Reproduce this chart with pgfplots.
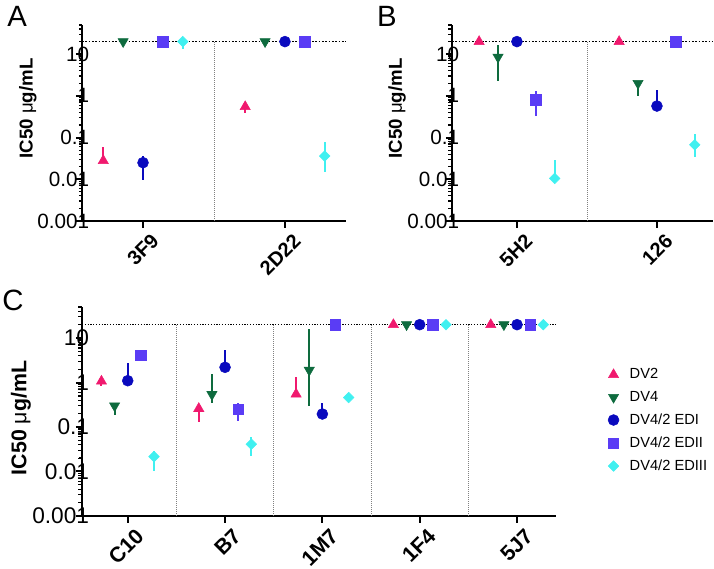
\documentclass[border=0pt]{standalone}
\usepackage{pgfplots}
\pgfplotsset{compat=1.18}
\usepackage{fontspec}
\setmainfont{Liberation Sans}
\definecolor{cDVtwo}{RGB}{240,25,110}
\definecolor{cDVfour}{RGB}{14,107,62}
\definecolor{cEDI}{RGB}{10,10,190}
\definecolor{cEDII}{RGB}{90,60,245}
\definecolor{cEDIII}{RGB}{64,240,240}
\pgfplotsset{
  myebar/.style={only marks, error bars/y dir=both, error bars/y explicit, error bars/error mark=none, error bars/error bar style={line width=1.5pt, solid}},
  sDVtwo/.style={color=cDVtwo, mark=triangle*, mark size=4.4pt, myebar},
  sDVfour/.style={color=cDVfour, mark=triangle*, mark size=4.4pt, mark options={rotate=180}, myebar},
  sEDI/.style={color=cEDI, mark=*, mark size=4.1pt, myebar},
  sEDII/.style={color=cEDII, mark=square*, mark size=3.9pt, myebar},
  sEDIII/.style={color=cEDIII, mark=square*, mark size=2.8pt, mark options={rotate=45}, myebar},
}
\begin{document}
\begin{tikzpicture}
\path (0,0) rectangle (535.5pt,-420.75pt);
% Panel letters
\node[anchor=base west, inner sep=0pt, font=\fontsize{22}{26}\selectfont] at (5.25pt,-20.25pt) {A};
\node[anchor=base west, inner sep=0pt, font=\fontsize{22}{26}\selectfont] at (282.75pt,-20.25pt) {B};
\node[anchor=base west, inner sep=0pt, font=\fontsize{22}{26}\selectfont] at (1.5pt,-233.25pt) {C};

% ---------------- Panel A
\begin{axis}[at={(61.5pt,-165.75pt)}, anchor=south west,
  scale only axis, width=198pt, height=147pt,
  ymode=log, ymin=0.001, ymax=50, xmin=-0.43, xmax=1.43,
  axis x line*=bottom, axis y line*=left, axis line style={line width=1.6pt},
  tick align=outside, major tick length=4.5pt, minor tick length=2.4pt,
  every tick/.style={black, line width=1.5pt},
  every minor tick/.style={black, line width=0.9pt},
  ytick={0.001,0.01,0.1,1,10},
  yticklabels={0.001,0.01,0.1,1,10},
  xtick={0,1}, xticklabels={3F9,2D22},
  xticklabel style={rotate=45, anchor=east, inner sep=1pt, xshift=2pt, yshift=-12pt, font=\bfseries\fontsize{15}{17}\selectfont},
  yticklabel style={anchor=east, inner sep=1pt, xshift=11pt, font=\fontsize{15.5}{18}\selectfont},
  ylabel={\textbf{IC50 }μ\textbf{g/mL}},
  ylabel style={at={(axis description cs:-0.205,0.574)}, anchor=center, font=\fontsize{14}{17}\selectfont},
  clip=false]
\addplot[gray, dash pattern=on 0.6pt off 0.9pt, line width=0.6pt, forget plot] coordinates {(0.5,0.001) (0.5,20)};
\addplot[black, dash pattern=on 1.2pt off 1.3pt, line width=1.2pt, forget plot] coordinates {(-0.43,20) (1.43,20)};
% axis ticks
\pgfplotsinvokeforeach{0.001,0.01,0.1,1,10}{\addplot[black, line width=1.5pt, forget plot] coordinates {(-0.43,#1) (-0.468,#1)};}
\pgfplotsinvokeforeach{0.002,0.003,0.004,0.005,0.006,0.007,0.008,0.009,0.02,0.03,0.04,0.05,0.06,0.07,0.08,0.09,0.2,0.3,0.4,0.5,0.6,0.7,0.8,0.9,2,3,4,5,6,7,8,9,20,30,40,50}{\addplot[black, line width=0.9pt, forget plot] coordinates {(-0.43,#1) (-0.454,#1)};}
\pgfplotsinvokeforeach{0,1}{\addplot[black, line width=1.5pt, forget plot] coordinates {(#1,0.001) (#1,0.00068)};}
% data
\addplot[sDVtwo] coordinates {(-0.28,0.028) += (0,0.032) -= (0,0) (0.72,0.55) += (0,0.15) -= (0,0.17)};
\addplot[sDVfour] coordinates {(-0.14,20) += (0,0) -= (0,0) (0.86,20) += (0,0) -= (0,0)};
\addplot[sEDI] coordinates {(0,0.025) += (0,0.011) -= (0,0.0155) (1,20) += (0,0) -= (0,0)};
\addplot[sEDII] coordinates {(0.14,20) += (0,0) -= (0,0) (1.14,20) += (0,0) -= (0,0)};
\addplot[sEDIII] coordinates {(0.28,20) += (0,0) -= (0,7) (1.28,0.036) += (0,0.044) -= (0,0.021)};
\end{axis}

% ---------------- Panel B
\begin{axis}[at={(339pt,-165.75pt)}, anchor=south west,
  scale only axis, width=195.75pt, height=147pt,
  ymode=log, ymin=0.001, ymax=50, xmin=-0.464, xmax=1.4,
  axis x line*=bottom, axis y line*=left, axis line style={line width=1.6pt},
  tick align=outside, major tick length=4.5pt, minor tick length=2.4pt,
  every tick/.style={black, line width=1.5pt},
  every minor tick/.style={black, line width=0.9pt},
  ytick={0.001,0.01,0.1,1,10},
  yticklabels={0.001,0.01,0.1,1,10},
  xtick={0,1}, xticklabels={5H2,126},
  xticklabel style={rotate=45, anchor=east, inner sep=1pt, xshift=2pt, yshift=-12pt, font=\bfseries\fontsize{15}{17}\selectfont},
  yticklabel style={anchor=east, inner sep=1pt, xshift=11pt, font=\fontsize{15.5}{18}\selectfont},
  ylabel={\textbf{IC50 }μ\textbf{g/mL}},
  ylabel style={at={(axis description cs:-0.21,0.574)}, anchor=center, font=\fontsize{14}{17}\selectfont},
  clip=false]
\addplot[gray, dash pattern=on 0.6pt off 0.9pt, line width=0.6pt, forget plot] coordinates {(0.5,0.001) (0.5,20)};
\addplot[black, dash pattern=on 1.2pt off 1.3pt, line width=1.2pt, forget plot] coordinates {(-0.464,20) (1.4,20)};
% axis ticks
\pgfplotsinvokeforeach{0.001,0.01,0.1,1,10}{\addplot[black, line width=1.5pt, forget plot] coordinates {(-0.464,#1) (-0.503,#1)};}
\pgfplotsinvokeforeach{0.002,0.003,0.004,0.005,0.006,0.007,0.008,0.009,0.02,0.03,0.04,0.05,0.06,0.07,0.08,0.09,0.2,0.3,0.4,0.5,0.6,0.7,0.8,0.9,2,3,4,5,6,7,8,9,20,30,40,50}{\addplot[black, line width=0.9pt, forget plot] coordinates {(-0.464,#1) (-0.489,#1)};}
\pgfplotsinvokeforeach{0,1}{\addplot[black, line width=1.5pt, forget plot] coordinates {(#1,0.001) (#1,0.00068)};}
% data
\addplot[sDVtwo] coordinates {(-0.27,20) += (0,0) -= (0,0) (0.73,20) += (0,0) -= (0,0)};
\addplot[sDVfour] coordinates {(-0.135,8.5) += (0,8.5) -= (0,6.2) (0.865,2.0) += (0,0) -= (0,1.0)};
\addplot[sEDI] coordinates {(0,20) += (0,0) -= (0,0) (1,0.57) += (0,0.83) -= (0,0)};
\addplot[sEDII] coordinates {(0.135,0.8) += (0,0.5) -= (0,0.47) (1.135,20) += (0,0) -= (0,0)};
\addplot[sEDIII] coordinates {(0.27,0.0105) += (0,0.018) -= (0,0) (1.27,0.067) += (0,0.055) -= (0,0.032)};
\end{axis}

% ---------------- Panel C
\begin{axis}[at={(61.5pt,-387pt)}, anchor=south west,
  scale only axis, width=355.5pt, height=156.75pt,
  ymode=log, ymin=0.001, ymax=50, xmin=-0.47, xmax=4.4,
  axis x line*=bottom, axis y line*=left, axis line style={line width=1.6pt},
  tick align=outside, major tick length=4.5pt, minor tick length=2.4pt,
  every tick/.style={black, line width=1.5pt},
  every minor tick/.style={black, line width=0.9pt},
  ytick={0.001,0.01,0.1,1,10},
  yticklabels={0.001,0.01,0.1,1,10},
  xtick={0,1,2,3,4}, xticklabels={C10,B7,1M7,1F4,5J7},
  xticklabel style={rotate=45, anchor=east, inner sep=1pt, xshift=2pt, yshift=-12pt, font=\bfseries\fontsize{16}{18}\selectfont},
  yticklabel style={anchor=east, inner sep=1pt, xshift=11pt, font=\fontsize{17}{19}\selectfont},
  ylabel={\textbf{IC50 }μ\textbf{g/mL}},
  ylabel style={at={(axis description cs:-0.129,0.469)}, anchor=center, font=\fontsize{16}{19}\selectfont},
  legend style={at={(axis description cs:1.101,0.732)}, anchor=north west, draw=none, fill=none,
    font=\fontsize{11}{13}\selectfont, row sep=3.8pt,
    /tikz/every odd column/.append style={column sep=6pt}},
  legend cell align=left,
  clip=false]
\addplot[gray, dash pattern=on 0.6pt off 0.9pt, line width=0.6pt, forget plot] coordinates {(0.5,0.001) (0.5,20)};
\addplot[gray, dash pattern=on 0.6pt off 0.9pt, line width=0.6pt, forget plot] coordinates {(1.5,0.001) (1.5,20)};
\addplot[gray, dash pattern=on 0.6pt off 0.9pt, line width=0.6pt, forget plot] coordinates {(2.5,0.001) (2.5,20)};
\addplot[gray, dash pattern=on 0.6pt off 0.9pt, line width=0.6pt, forget plot] coordinates {(3.5,0.001) (3.5,20)};
\addplot[black, dash pattern=on 0.9pt off 1.2pt, line width=0.9pt, forget plot] coordinates {(-0.47,20) (4.4,20)};
% axis ticks
\pgfplotsinvokeforeach{0.001,0.01,0.1,1,10}{\addplot[black, line width=1.5pt, forget plot] coordinates {(-0.47,#1) (-0.526,#1)};}
\pgfplotsinvokeforeach{0.002,0.003,0.004,0.005,0.006,0.007,0.008,0.009,0.02,0.03,0.04,0.05,0.06,0.07,0.08,0.09,0.2,0.3,0.4,0.5,0.6,0.7,0.8,0.9,2,3,4,5,6,7,8,9,20,30,40,50}{\addplot[black, line width=0.9pt, forget plot] coordinates {(-0.47,#1) (-0.506,#1)};}
\pgfplotsinvokeforeach{0,1,2,3,4}{\addplot[black, line width=1.5pt, forget plot] coordinates {(#1,0.001) (#1,0.0007)};}
% data
\addplot[sDVtwo] coordinates {(-0.27,1.07) += (0,0) -= (0,0.22) (0.73,0.26) += (0,0) -= (0,0.13) (1.73,0.55) += (0,0.75) -= (0,0) (2.73,20) += (0,0) -= (0,0) (3.73,20) += (0,0) -= (0,0)};
\addlegendentry{DV2}
\addplot[sDVfour] coordinates {(-0.135,0.30) += (0,0) -= (0,0.11) (0.865,0.54) += (0,0.98) -= (0,0.19) (1.865,1.9) += (0,14) -= (0,1.6) (2.865,20) += (0,0) -= (0,0) (3.865,20) += (0,0) -= (0,0)};
\addlegendentry{DV4}
\addplot[sEDI] coordinates {(0,1.1) += (0,1.6) -= (0,0) (1,2.2) += (0,3.1) -= (0,0) (2,0.196) += (0,0.154) -= (0,0) (3,20) += (0,0) -= (0,0) (4,20) += (0,0) -= (0,0)};
\addlegendentry{DV4/2 EDI}
\addplot[sEDII] coordinates {(0.135,4.1) += (0,0) -= (0,0) (1.135,0.25) += (0,0.1) -= (0,0.11) (2.135,20) += (0,0) -= (0,0) (3.135,20) += (0,0) -= (0,0) (4.135,20) += (0,0) -= (0,0)};
\addlegendentry{DV4/2 EDII}
\addplot[sEDIII] coordinates {(0.27,0.0216) += (0,0.008) -= (0,0.0112) (1.27,0.041) += (0,0.019) -= (0,0.019) (2.27,0.46) += (0,0) -= (0,0) (3.27,20) += (0,0) -= (0,0) (4.27,20) += (0,0) -= (0,0)};
\addlegendentry{DV4/2 EDIII}
\end{axis}
\end{tikzpicture}
\end{document}
